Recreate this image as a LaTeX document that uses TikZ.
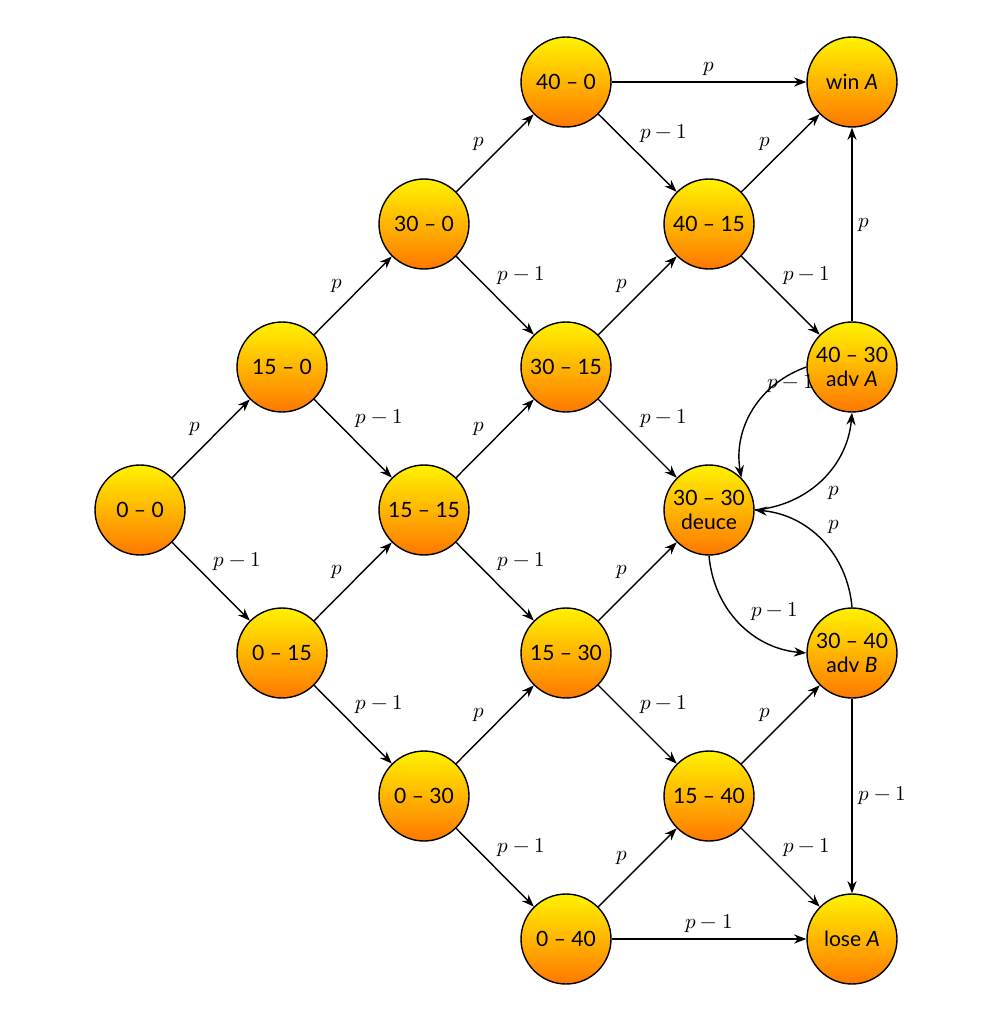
\documentclass[tikz,border=0pt]{standalone}
\usepackage{fontspec}
\setmainfont{Lato}
\usepackage{unicode-math}
\setmathfont{Latin Modern Math}
\usetikzlibrary{arrows.meta}
\begin{document}
\begin{tikzpicture}[x=0.02cm,y=-0.02cm,
 st/.style={circle,draw=black,thick,minimum size=1.8cm,inner sep=0pt,align=center,top color=yellow!90!orange,bottom color=orange!90!red!60!orange,font=\large,text=black},
 ar/.style={-{Stealth[length=7pt]},thick},
 lb/.style={font=\large}]
\useasboundingbox (0,0) rectangle (1005,1024);
\def\lp{$p$}\def\lq{$p-1$}
\node[st] (a00) at (140,510) {0 – 0};
\node[st] (a10) at (282,367) {15 – 0};
\node[st] (a01) at (282,653) {0 – 15};
\node[st] (a20) at (424,224) {30 – 0};
\node[st] (a11) at (424,510) {15 – 15};
\node[st] (a02) at (424,796) {0 – 30};
\node[st] (a30) at (566,82) {40 – 0};
\node[st] (a21) at (566,367) {30 – 15};
\node[st] (a12) at (566,653) {15 – 30};
\node[st] (a03) at (566,939) {0 – 40};
\node[st] (a31) at (709,224) {40 – 15};
\node[st] (a22) at (709,510) {30 – 30\\deuce};
\node[st] (a13) at (709,796) {15 – 40};
\node[st] (win) at (852,82) {win \textit{A}};
\node[st] (advA) at (852,367) {40 – 30\\adv \textit{A}};
\node[st] (advB) at (852,653) {30 – 40\\adv \textit{B}};
\node[st] (lose) at (852,939) {lose \textit{A}};
\foreach \s/\t in {a00/a10,a10/a20,a20/a30,a01/a11,a11/a21,a21/a31,a02/a12,a12/a22,a03/a13,a31/win,a13/advB}
  \draw[ar] (\s) -- node[lb,above left,pos=0.45] {\lp} (\t);
\foreach \s/\t in {a00/a01,a10/a11,a11/a12,a20/a21,a21/a22,a01/a02,a02/a03,a12/a13,a30/a31,a31/advA,a13/lose}
  \draw[ar] (\s) -- node[lb,above right,pos=0.45] {\lq} (\t);
\draw[ar] (a30) -- node[lb,above] {\lp} (win);
\draw[ar] (a03) -- node[lb,above] {\lq} (lose);
\draw[ar] (advA) -- node[lb,right] {\lp} (win);
\draw[ar] (advB) -- node[lb,right] {\lq} (lose);
\draw[ar] (a22.east) to[bend right=40] node[lb,below right] {\lp} (advA.south);
\draw[ar] (advA.west) to[bend right=40] node[lb,above right,pos=0.4] {\lq} (a22.north east);
\draw[ar] (advB.north) to[bend right=40] node[lb,above right] {\lp} (a22.east);
\draw[ar] (a22.south) to[bend right=40] node[lb,above right,pos=0.55] {\lq} (advB.west);
\end{tikzpicture}
\end{document}
